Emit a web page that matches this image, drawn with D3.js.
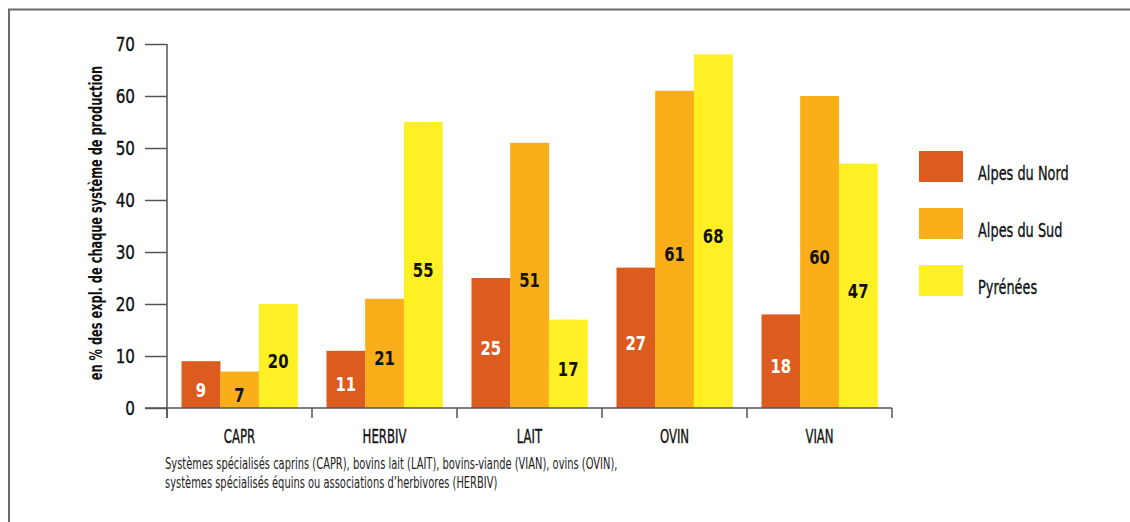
<!DOCTYPE html>
<html>
<head>
<meta charset="utf-8">
<script src="https://cdn.jsdelivr.net/npm/d3@7.9.0/dist/d3.min.js"></script>
<style>
  body { margin: 0; background: #fff; }
  svg { display: block; font-family: "DejaVu Sans", sans-serif; }
</style>
</head>
<body>
<svg id="chart" width="1130" height="522"></svg>
<script>
const categories = ['CAPR', 'HERBIV', 'LAIT', 'OVIN', 'VIAN'];
const regions = ['Alpes du Nord', 'Alpes du Sud', 'Pyrénées'];
const alpesNord = [9, 11, 25, 27, 18];
const alpesSud = [7, 21, 51, 61, 60];
const pyrenees = [20, 55, 17, 68, 47];
const yTicks = [0, 10, 20, 30, 40, 50, 60, 70];
const colors = ['#dc5b1e', '#f9ae1a', '#fff026'];
const labelColors = ['#fff', '#111', '#111'];

const series = [alpesNord, alpesSud, pyrenees];
const data = categories.map((c, i) => ({ cat: c, values: series.map(s => s[i]) }));

const svg = d3.select('#chart');

// pas de police condensée installée : on resserre les textes à la main
function condense(sel, k) {
  sel.each(function () {
    const w = this.getComputedTextLength();
    d3.select(this).attr('textLength', w * k).attr('lengthAdjust', 'spacingAndGlyphs');
  });
}

// cadre
svg.append('line').attr('x1', 8).attr('x2', 1130).attr('y1', 9.5).attr('y2', 9.5)
  .attr('stroke', '#6a6a6a').attr('stroke-width', 2);
svg.append('line').attr('x1', 9).attr('x2', 9).attr('y1', 9).attr('y2', 522)
  .attr('stroke', '#6a6a6a').attr('stroke-width', 2);

const x0 = d3.scaleBand().domain(categories).range([167, 892]).paddingInner(0).paddingOuter(0);
const x1 = d3.scaleBand().domain(d3.range(3)).range([0, x0.bandwidth()]).paddingOuter(0.375).paddingInner(0);
const y = d3.scaleLinear().domain([0, 70]).range([408, 44]);

// barres
const groups = svg.append('g').selectAll('g').data(data).join('g')
  .attr('transform', d => `translate(${x0(d.cat)},0)`);

groups.selectAll('rect').data(d => d.values).join('rect')
  .attr('x', (d, i) => x1(i))
  .attr('y', d => y(d))
  .attr('width', x1.bandwidth() + 0.3)
  .attr('height', d => y(0) - y(d))
  .attr('fill', (d, i) => colors[i]);

groups.selectAll('text').data(d => d.values).join('text')
  .attr('x', (d, i) => x1(i) + x1.bandwidth() / 2)
  .attr('y', d => (y(d) + y(0)) / 2 + 12)
  .attr('text-anchor', 'middle')
  .attr('font-size', 19)
  .attr('font-weight', 'bold')
  .attr('fill', (d, i) => labelColors[i])
  .text(d => d)
  .call(condense, 0.78);

// axe y
const axisColor = '#555';
const yAxis = svg.append('g').attr('transform', 'translate(167,0)')
  .call(d3.axisLeft(y).tickValues(yTicks).tickSize(22).tickPadding(10));
yAxis.attr('font-family', null);
yAxis.select('.domain').remove();
yAxis.append('line').attr('x1', 0).attr('x2', 0).attr('y1', y(70)).attr('y2', 418)
  .attr('stroke', axisColor).attr('stroke-width', 1.5);
yAxis.selectAll('.tick line').attr('stroke', axisColor).attr('stroke-width', 1.5);
yAxis.selectAll('.tick text').attr('font-size', 19).attr('fill', '#111')
  .attr('stroke', '#111').attr('stroke-width', 0.4)
  .attr('dy', '0.36em').call(condense, 0.8);

// axe x
svg.append('line').attr('x1', 145).attr('x2', 892).attr('y1', 408).attr('y2', 408)
  .attr('stroke', axisColor).attr('stroke-width', 1.5);
const xAxis = svg.append('g').attr('transform', 'translate(0,408)')
  .call(d3.axisBottom(x0).tickSize(0).tickPadding(0));
xAxis.attr('font-family', null);
xAxis.select('.domain').remove();
xAxis.selectAll('.tick text').attr('y', 35).attr('dy', 0).attr('font-size', 19.5)
  .attr('fill', '#111').attr('stroke', '#111').attr('stroke-width', 0.4)
  .call(condense, 0.6);
xAxis.selectAll('.sep').data(categories.concat(['end'])).join('line')
  .attr('class', 'sep')
  .attr('x1', (d, i) => i < categories.length ? x0(d) : x0.range()[1])
  .attr('x2', (d, i) => i < categories.length ? x0(d) : x0.range()[1])
  .attr('y1', 0).attr('y2', 10)
  .attr('stroke', axisColor).attr('stroke-width', 1.5);

// titre axe y (resserré par une mise à l'échelle plutôt que textLength)
svg.append('text')
  .attr('transform', `translate(102,223) rotate(-90) scale(0.65,1)`)
  .attr('text-anchor', 'middle')
  .attr('font-size', 17.5)
  .attr('font-weight', 'bold')
  .attr('fill', '#111')
  .text('en % des expl. de chaque système de production');

// légende
const legend = svg.append('g').selectAll('g').data(regions).join('g')
  .attr('transform', (d, i) => `translate(919,${151 + i * 57})`);
legend.append('rect').attr('width', 44).attr('height', 31).attr('fill', (d, i) => colors[i]);
legend.append('text').attr('x', 59).attr('y', 29).attr('font-size', 19)
  .attr('fill', '#111').attr('stroke', '#111').attr('stroke-width', 0.35)
  .text(d => d).call(condense, 0.68);

// note
const note = [
  'Systèmes spécialisés caprins (CAPR), bovins lait (LAIT), bovins-viande (VIAN), ovins (OVIN),',
  'systèmes spécialisés équins ou associations d’herbivores (HERBIV)'
];
svg.append('g').selectAll('text').data(note).join('text')
  .attr('x', 165).attr('y', (d, i) => 469 + i * 19)
  .attr('font-size', 16.5).attr('fill', '#222')
  .text(d => d)
  .call(condense, 0.6);
</script>
</body>
</html>
